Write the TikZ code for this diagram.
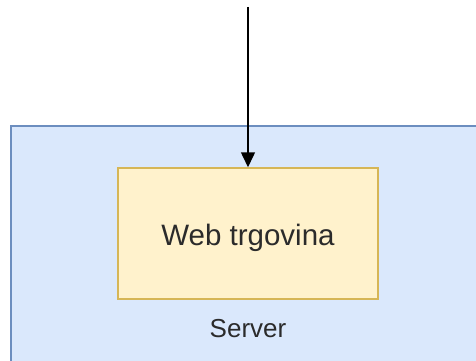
\documentclass[tikz,border=0pt]{standalone}
\usepackage{fontspec}
\setmainfont{Liberation Sans}
\usetikzlibrary{arrows.meta}
\definecolor{srvfill}{HTML}{DAE8FC}
\definecolor{srvline}{HTML}{6C8EBF}
\definecolor{appfill}{HTML}{FFF2CC}
\definecolor{appline}{HTML}{D6B656}
\definecolor{txt}{HTML}{2B2B2B}
\begin{document}
\begin{tikzpicture}[x=1pt,y=-1pt,
  serverbox/.style={draw=srvline,fill=srvfill,line width=1.5pt},
  appbox/.style={draw=appline,fill=appfill,line width=1.5pt,minimum width=260pt,minimum height=131pt,inner sep=0pt},
  conn/.style={line width=1.5pt,-{Triangle[length=15pt,width=14pt]}}]
\useasboundingbox (0,0) rectangle (476,361);
\begin{scope}
\clip (0,0) rectangle (476,361);
\draw[serverbox] (11,126) rectangle (490,380);
\end{scope}
\node[appbox] (app) at (248,233.5) {};
\node[text=txt,font=\fontsize{29.5}{34}\selectfont] (apptext) at (248,238) {Web trgovina};
\node[text=txt,font=\fontsize{26}{30}\selectfont] (server) at (248,329) {Server};
\coordinate (src) at (248,7);
\draw[conn] (src) -- (app.north);
\end{tikzpicture}
\end{document}
